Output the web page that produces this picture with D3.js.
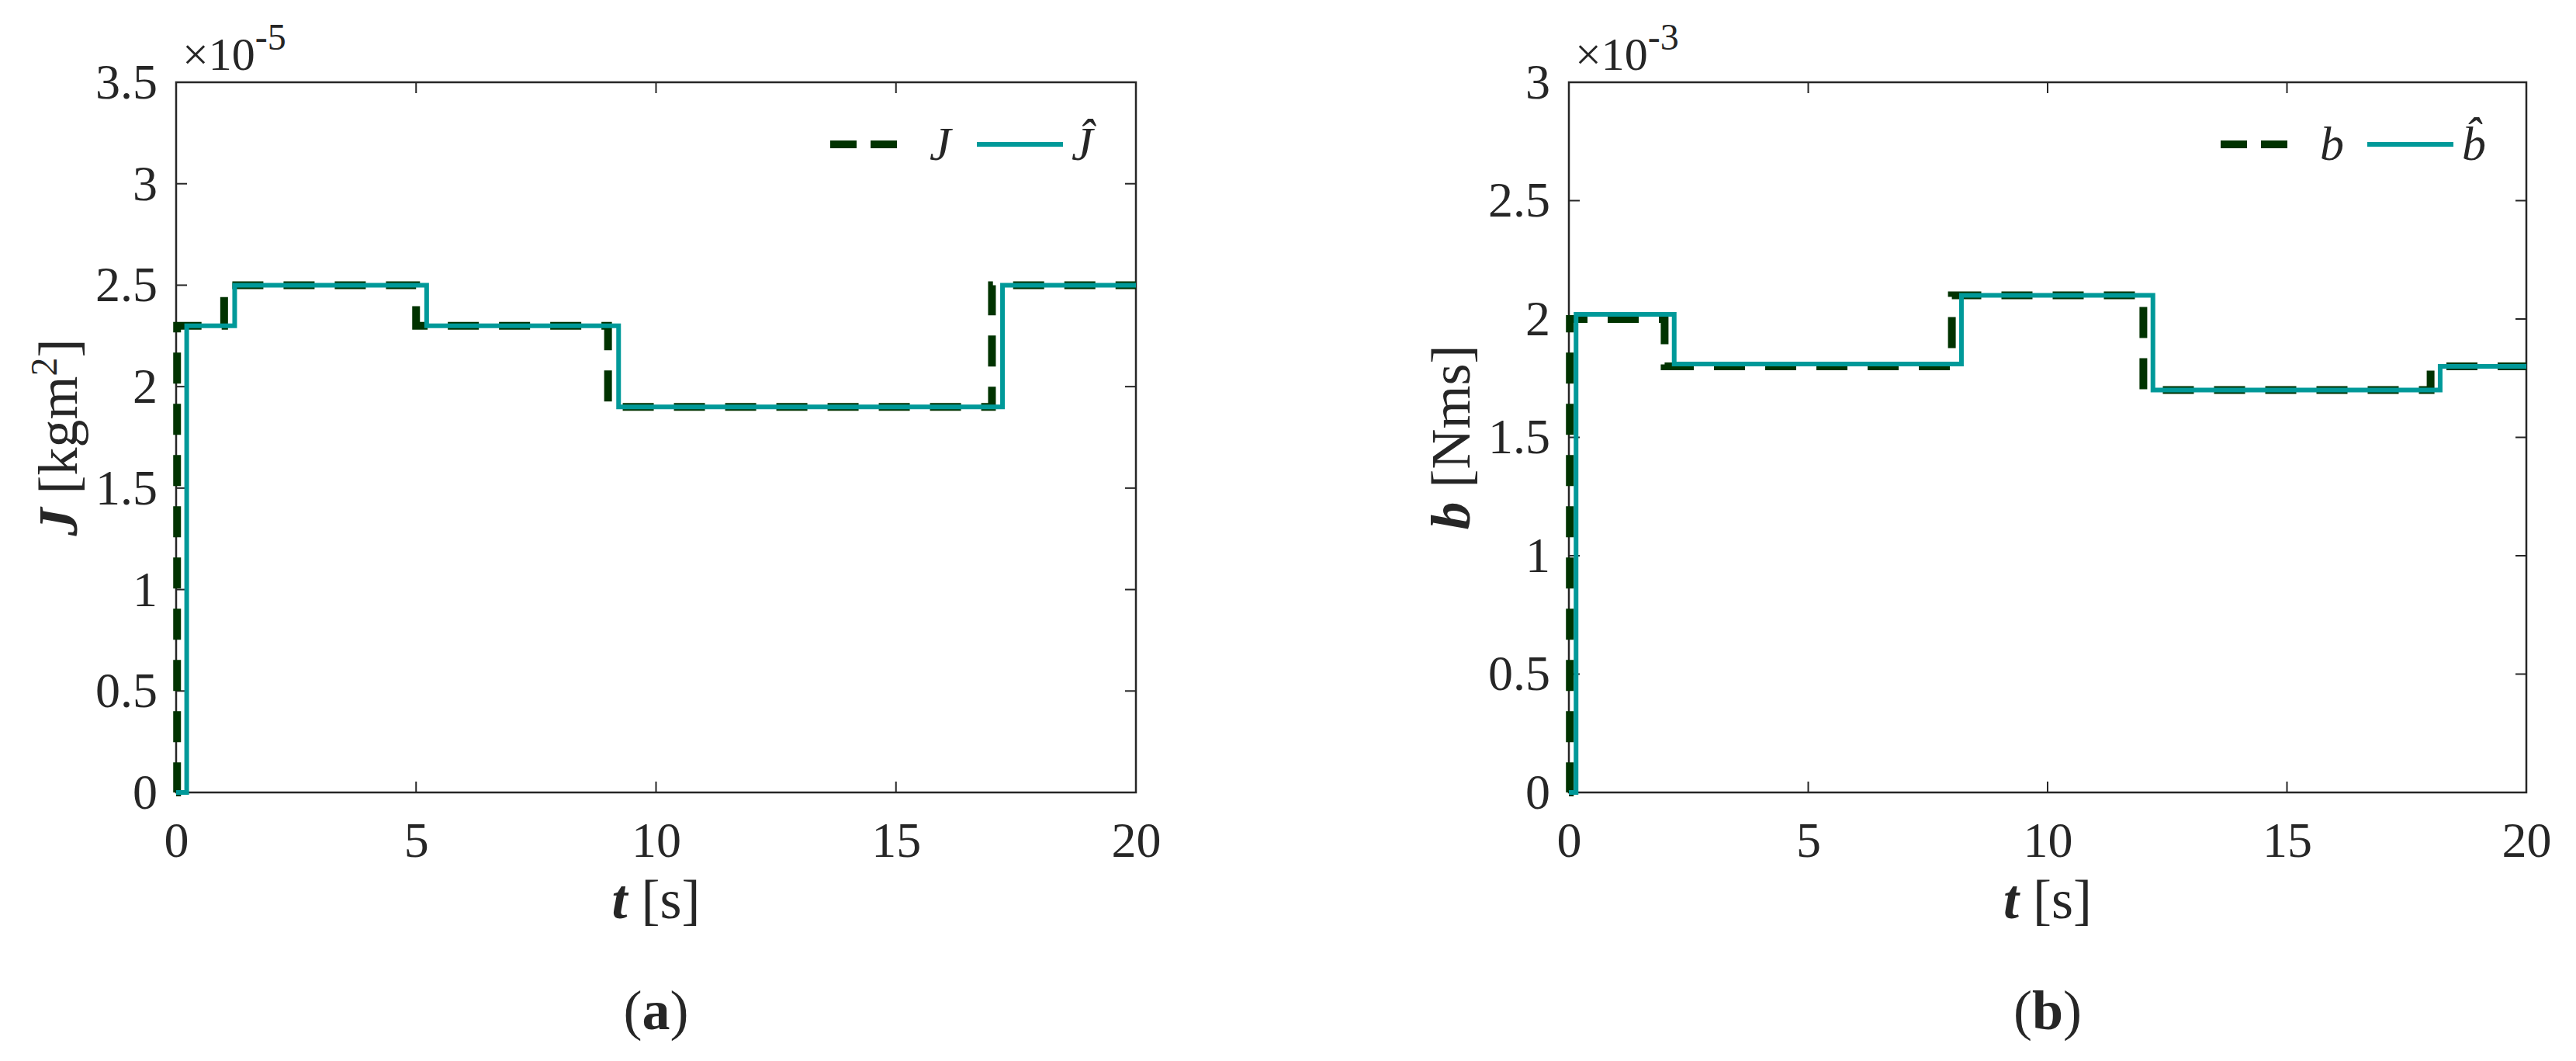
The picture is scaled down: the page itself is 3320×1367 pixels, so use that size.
<!DOCTYPE html>
<html><head><meta charset="utf-8">
<script src="https://cdn.jsdelivr.net/npm/d3@7"></script>
<style>body{margin:0;background:#fff}text{font-family:"Liberation Serif",serif;fill:#262626}</style>
</head><body>
<svg id="c" width="3320" height="1367"></svg>
<script>
// step data: [t, value] breakpoints, held until next t
const jTrue = [[0, 0], [0.02, 2.3], [1.0, 2.5], [5.0, 2.3], [9.0, 1.9], [17.0, 2.5], [20, 2.5]];
const jEst = [[0, 0], [0.22, 2.3], [1.22, 2.5], [5.22, 2.3], [9.22, 1.9], [17.22, 2.5], [20, 2.5]];
const bTrue = [[0, 0], [0.02, 2.0], [2.0, 1.8], [8.0, 2.1], [12.0, 1.7], [18.0, 1.8], [20, 1.8]];
const bEst = [[0, 0], [0.15, 2.02], [2.2, 1.81], [8.2, 2.1], [12.2, 1.7], [18.2, 1.8], [20, 1.8]];
const xTicks = [0, 5, 10, 15, 20];
const jTicks = [0, 0.5, 1, 1.5, 2, 2.5, 3, 3.5];
const bTicks = [0, 0.5, 1, 1.5, 2, 2.5, 3];

const svg = d3.select("#c");

function panel(opt) {
  const {x0, x1, y0, y1} = opt;
  const g = svg.append("g");
  const x = d3.scaleLinear().domain([0, 20]).range([x0, x1]);
  const y = d3.scaleLinear().domain([0, opt.ymax]).range([y1, y0]);
  const tk = 14;
  g.append("rect").attr("x", x0).attr("y", y0).attr("width", x1 - x0).attr("height", y1 - y0)
    .attr("fill", "none").attr("stroke", "#262626").attr("stroke-width", 2.5);
  const ax = g.append("g").attr("transform", `translate(0,${y1})`)
    .call(d3.axisBottom(x).tickValues(xTicks).tickSize(0).tickPadding(38).tickFormat(d3.format("d")));
  ax.select(".domain").remove();
  ax.selectAll("text").attr("font-size", 64).style("fill", "#262626");
  const ay = g.append("g").attr("transform", `translate(${x0},0)`)
    .call(d3.axisLeft(y).tickValues(opt.ticks).tickSize(0).tickPadding(24).tickFormat(d => d));
  ay.select(".domain").remove();
  ay.selectAll("text").attr("font-size", 64).style("fill", "#262626");
  xTicks.forEach(v => {
    g.append("line").attr("x1", x(v)).attr("x2", x(v)).attr("y1", y1).attr("y2", y1 - tk).attr("stroke", "#262626").attr("stroke-width", 2);
    g.append("line").attr("x1", x(v)).attr("x2", x(v)).attr("y1", y0).attr("y2", y0 + tk).attr("stroke", "#262626").attr("stroke-width", 2);
  });
  opt.ticks.forEach(v => {
    g.append("line").attr("y1", y(v)).attr("y2", y(v)).attr("x1", x0).attr("x2", x0 + tk).attr("stroke", "#262626").attr("stroke-width", 2);
    g.append("line").attr("y1", y(v)).attr("y2", y(v)).attr("x1", x1).attr("x2", x1 - tk).attr("stroke", "#262626").attr("stroke-width", 2);
  });
  const line = d3.line().x(d => x(d[0])).y(d => y(d[1])).curve(d3.curveStepAfter);
  g.append("path").datum(opt.truth).attr("d", line).attr("fill", "none")
    .attr("stroke", "#003300").attr("stroke-width", 10).attr("stroke-dasharray", "40,26");
  g.append("path").datum(opt.est).attr("d", line).attr("fill", "none")
    .attr("stroke", "#009999").attr("stroke-width", 6);
  // exponent
  const ex = g.append("text").attr("x", x0 + 8).attr("y", y0 - 16).attr("font-size", 60);
  ex.append("tspan").text("×10");
  ex.append("tspan").attr("dy", -26).attr("font-size", 48).text(opt.exp);
  // legend
  const ly = y0 + 80, lx = x1 - 394;
  g.append("line").attr("x1", lx).attr("x2", lx + 104).attr("y1", ly).attr("y2", ly)
    .attr("stroke", "#003300").attr("stroke-width", 10).attr("stroke-dasharray", "34,18");
  g.append("text").attr("x", lx + 128).attr("y", ly + 20).attr("font-size", 62).attr("font-style", "italic").text(opt.sym);
  g.append("line").attr("x1", lx + 189).attr("x2", lx + 300).attr("y1", ly).attr("y2", ly)
    .attr("stroke", "#009999").attr("stroke-width", 6);
  g.append("text").attr("x", lx + 311).attr("y", ly + 20).attr("font-size", 62).attr("font-style", "italic").text(opt.hat);
  // axis labels
  const xl = g.append("text").attr("x", (x0 + x1) / 2).attr("y", y1 + 162).attr("text-anchor", "middle").attr("font-size", 72);
  xl.append("tspan").attr("font-style", "italic").attr("font-weight", "bold").text("t");
  xl.append("tspan").text(" [s]");
  const yl = g.append("text").attr("transform", `translate(${x0 - 128},${(y0 + y1) / 2}) rotate(-90)`)
    .attr("text-anchor", "middle").attr("font-size", 72);
  yl.append("tspan").attr("font-style", "italic").attr("font-weight", "bold").text(opt.sym);
  if (opt.sym === "J") {
    yl.append("tspan").text(" [kgm");
    yl.append("tspan").attr("dy", -26).attr("font-size", 48).text("2");
    yl.append("tspan").attr("dy", 26).text("]");
  } else {
    yl.append("tspan").text(" [Nms]");
  }
  g.append("text").attr("x", (x0 + x1) / 2).attr("y", 1326).attr("text-anchor", "middle").attr("font-size", 72)
    .html('(<tspan font-weight="bold">' + opt.tag + '</tspan>)');
}

panel({x0: 227, x1: 1464, y0: 106, y1: 1021, ymax: 3.5, ticks: jTicks, truth: jTrue, est: jEst, sym: "J", hat: "Ĵ", exp: "-5", tag: "a"});
panel({x0: 2022, x1: 3256, y0: 106, y1: 1021, ymax: 3, ticks: bTicks, truth: bTrue, est: bEst, sym: "b", hat: "b\u0302", exp: "-3", tag: "b"});
</script>
</body></html>
